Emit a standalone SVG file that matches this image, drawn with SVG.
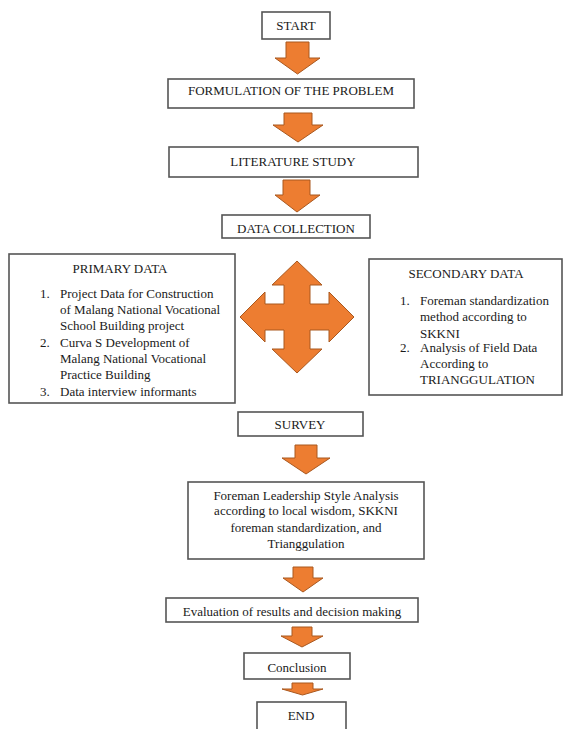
<svg xmlns="http://www.w3.org/2000/svg" width="564" height="729" viewBox="0 0 564 729">
<style>
.box{fill:#fff;stroke:#555;stroke-width:1.6}
.t{font-family:'Liberation Serif',serif;font-size:13px;fill:#1a1a1a}
.c{text-anchor:middle}
.arr{fill:#ED7D31;stroke:#A9581F;stroke-width:1}
</style>
<rect width="564" height="729" fill="#fff"/>
<g id="connectors">
<polygon class="arr" points="286,42 309,42 309,58 320,58 297.5,74 275,58 286,58"/>
<polygon class="arr" points="284,113 312,113 312,125 323,125 298,142 273,125 284,125"/>
<polygon class="arr" points="283,180 310,180 310,195 320,195 297,212 275,195 283,195"/>
<polygon class="arr" points="297,261 322,285 310,285 310,304 329,304 329,292 354,317 329,342 329,330 310,330 310,349 322,349 297,373 272,349 284,349 284,330 265,330 265,342 240,317 265,292 265,304 284,304 284,285 272,285"/>
<polygon class="arr" points="295,445 317,445 317,458 330,458 306,474 282,458 295,458"/>
<polygon class="arr" points="293,567 313,567 313,578 323,578 303,592 283,578 293,578"/>
<polygon class="arr" points="292,627 312,627 312,636 323,636 302,647 281,636 292,636"/>
<polygon class="arr" points="292,683 313,683 313,689 323,689 302.5,695 282,689 292,689"/>
</g>
<g id="start"><rect class="box" x="262" y="12" width="68" height="27"/><text class="t c" x="296" y="30">START</text></g>
<g id="formulation"><rect class="box" x="168" y="79" width="246" height="29"/><text class="t c" x="291" y="95">FORMULATION OF THE PROBLEM</text></g>
<g id="literature"><rect class="box" x="169" y="147" width="249" height="30"/><text class="t c" x="293" y="166">LITERATURE STUDY</text></g>
<g id="datacollection"><rect class="box" x="222" y="215" width="148" height="23"/><text class="t c" x="296" y="232.5">DATA COLLECTION</text></g>
<g id="primary"><rect class="box" x="9" y="254" width="226" height="149"/>
<text class="t c" x="120" y="272.5">PRIMARY DATA</text>
<text class="t" x="40" y="297.5">1.</text><text class="t" x="60" y="297.5">Project Data for Construction</text>
<text class="t" x="60" y="313.5">of Malang National Vocational</text>
<text class="t" x="60" y="329.5">School Building project</text>
<text class="t" x="40" y="346.5">2.</text><text class="t" x="60" y="346.5">Curva S Development of</text>
<text class="t" x="60" y="362.5">Malang National Vocational</text>
<text class="t" x="60" y="378.5">Practice Building</text>
<text class="t" x="40" y="395.5">3.</text><text class="t" x="60" y="395.5">Data interview informants</text>
</g>
<g id="secondary"><rect class="box" x="369" y="259" width="193" height="136"/>
<text class="t c" x="466" y="277.5">SECONDARY DATA</text>
<text class="t" x="400" y="304.5">1.</text><text class="t" x="420" y="304.5">Foreman standardization</text>
<text class="t" x="420" y="320.5">method according to</text>
<text class="t" x="420" y="337.5">SKKNI</text>
<text class="t" x="400" y="351.5">2.</text><text class="t" x="420" y="351.5">Analysis of Field Data</text>
<text class="t" x="420" y="367.5">According to</text>
<text class="t" x="420" y="383.5">TRIANGGULATION</text>
</g>
<g id="survey"><rect class="box" x="238" y="412" width="125" height="24"/><text class="t c" x="300" y="428.5">SURVEY</text></g>
<g id="analysis"><rect class="box" x="188" y="482" width="236" height="77"/>
<text class="t c" x="306" y="499.5">Foreman Leadership Style Analysis</text>
<text class="t c" x="306" y="514.5">according to local wisdom, SKKNI</text>
<text class="t c" x="306" y="531.5">foreman standardization, and</text>
<text class="t c" x="306" y="547.5">Trianggulation</text>
</g>
<g id="evaluation"><rect class="box" x="166" y="598" width="252" height="24"/><text class="t c" x="292" y="616">Evaluation of results and decision making</text></g>
<g id="conclusion"><rect class="box" x="244" y="653" width="106" height="26"/><text class="t c" x="297" y="671.5">Conclusion</text></g>
<g id="end"><rect class="box" x="257" y="702" width="89" height="40"/><text class="t c" x="301" y="719.5">END</text></g>
</svg>
